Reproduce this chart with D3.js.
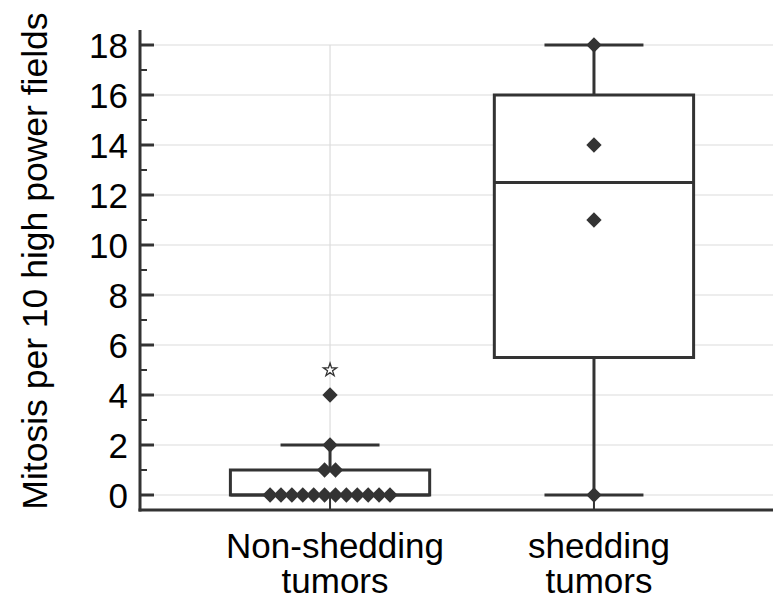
<!DOCTYPE html>
<html>
<head>
    <meta charset="utf-8">
    <title>Mitosis box plot</title>
    <script src="https://d3js.org/d3.v7.min.js"></script>
    <style>
        body { margin: 0; background: #fff; }
        text { font-family: "Liberation Sans", Arial, sans-serif; fill: #000; }
        .grid line { stroke: #dcdcdc; stroke-width: 1.2; }
        .ink { stroke: #333; stroke-width: 3; fill: none; }
    </style>
</head>
<body>
    <div id="chart"></div>
    <script>
        // data
        const categories = ["Non-shedding tumors", "shedding tumors"];
        const whiskerLow = [0, 0];
        const q1 = [0, 5.5];
        const median = [0, 12.5];
        const q3 = [1, 16];
        const whiskerHigh = [2, 18];
        const pointsNonShedding = [0, 0, 0, 0, 0, 0, 0, 0, 0, 0, 0, 0, 1, 1, 2, 4];
        const pointsShedding = [0, 11, 14, 18];
        const outliersNonShedding = [5];
        const outliersShedding = [];
        const yTicks = [0, 2, 4, 6, 8, 10, 12, 14, 16, 18];
        const yMinorTicks = [1, 3, 5, 7, 9, 11, 13, 15, 17];

        const points = [pointsNonShedding, pointsShedding];
        const outliers = [outliersNonShedding, outliersShedding];

        const W = 773, H = 600;
        const plotLeft = 140, plotBottom = 510, plotTop = 30;

        const svg = d3.select("#chart").append("svg")
            .attr("width", W).attr("height", H);

        const y = d3.scaleLinear().domain([-0.6, 18.6]).range([plotBottom, plotTop]);
        const x = d3.scalePoint().domain(categories).range([plotLeft, 784]).padding(0.72);
        const step = x.step();
        const boxW = step * 0.755;
        const capW = step * 0.375;

        // gridlines
        const grid = svg.append("g").attr("class", "grid");
        grid.selectAll(".h").data(yTicks).join("line")
            .attr("x1", plotLeft + 14).attr("x2", W)
            .attr("y1", d => y(d)).attr("y2", d => y(d));
        grid.selectAll(".v").data(categories).join("line")
            .attr("x1", d => x(d)).attr("x2", d => x(d))
            .attr("y1", y(18)).attr("y2", y(0));

        // boxes (white fill hides the grid behind them)
        const g = svg.append("g");
        categories.forEach((c, i) => {
            const cx = x(c);
            g.append("line").attr("class", "ink")
                .attr("x1", cx).attr("x2", cx)
                .attr("y1", y(whiskerLow[i])).attr("y2", y(q1[i]));
            g.append("line").attr("class", "ink")
                .attr("x1", cx).attr("x2", cx)
                .attr("y1", y(q3[i])).attr("y2", y(whiskerHigh[i]));
            [whiskerLow[i], whiskerHigh[i]].forEach(v => {
                g.append("line").attr("class", "ink")
                    .attr("x1", cx - capW / 2).attr("x2", cx + capW / 2)
                    .attr("y1", y(v)).attr("y2", y(v));
            });
            g.append("rect").attr("class", "ink")
                .style("fill", "#fff")
                .attr("x", cx - boxW / 2).attr("width", boxW)
                .attr("y", y(q3[i])).attr("height", y(q1[i]) - y(q3[i]));
            g.append("line").attr("class", "ink")
                .attr("x1", cx - boxW / 2).attr("x2", cx + boxW / 2)
                .attr("y1", y(median[i])).attr("y2", y(median[i]));
        });

        // points: ties are spread side by side
        const diamond = d3.symbol().type(d3.symbolDiamond2).size(150);
        const spacing = 10.9;
        categories.forEach((c, i) => {
            const counts = d3.rollup(points[i], v => v.length, d => d);
            const seen = new Map();
            const pos = points[i].map(v => {
                const k = seen.get(v) || 0;
                seen.set(v, k + 1);
                const n = counts.get(v);
                return { v, dx: (k - (n - 1) / 2) * spacing };
            });
            svg.append("g").selectAll("path").data(pos).join("path")
                .attr("d", diamond)
                .attr("fill", "#333")
                .attr("transform", d => `translate(${x(c) + d.dx},${y(d.v)})`);
            svg.append("g").selectAll("path").data(outliers[i]).join("path")
                .attr("d", d3.symbol().type(d3.symbolStar).size(55))
                .attr("fill", "#fff").attr("stroke", "#333").attr("stroke-width", 1.3)
                .attr("transform", d => `translate(${x(c)},${y(d)})`);
        });

        // axes
        const ax = svg.append("g");
        ax.append("line").attr("class", "ink")
            .attr("x1", plotLeft).attr("x2", plotLeft).attr("y1", plotTop).attr("y2", plotBottom + 1.5);
        ax.append("line").attr("class", "ink")
            .attr("x1", plotLeft - 1.5).attr("x2", W).attr("y1", plotBottom).attr("y2", plotBottom);
        ax.selectAll(".maj").data(yTicks).join("line").attr("class", "ink")
            .attr("x1", plotLeft).attr("x2", plotLeft + 14)
            .attr("y1", d => y(d)).attr("y2", d => y(d));
        ax.selectAll(".min").data(yMinorTicks).join("line").attr("class", "ink")
            .style("stroke-width", 2)
            .attr("x1", plotLeft).attr("x2", plotLeft + 7)
            .attr("y1", d => y(d)).attr("y2", d => y(d));
        ax.selectAll(".xt").data(categories).join("line").attr("class", "ink")
            .style("stroke-width", 2)
            .attr("x1", d => x(d)).attr("x2", d => x(d))
            .attr("y1", plotBottom).attr("y2", plotBottom - 15);

        ax.selectAll(".yl").data(yTicks).join("text")
            .attr("x", plotLeft - 12).attr("y", d => y(d))
            .attr("dy", "0.36em").attr("text-anchor", "end")
            .style("font-size", "35px")
            .text(d => d);

        const xl = ax.selectAll(".xl").data(categories).join("text")
            .attr("text-anchor", "middle")
            .style("font-size", "35px")
            .attr("transform", d => `translate(${x(d) + 5},558)`);
        xl.append("tspan").attr("x", 0).attr("y", 0).text(d => d.split(" ")[0]);
        xl.append("tspan").attr("x", 0).attr("y", 35).text(d => d.split(" ")[1]);

        svg.append("text")
            .attr("text-anchor", "middle")
            .style("font-size", "35.5px")
            .attr("transform", "translate(47,261) rotate(-90)")
            .text("Mitosis per 10 high power fields");
    </script>
</body>
</html>
